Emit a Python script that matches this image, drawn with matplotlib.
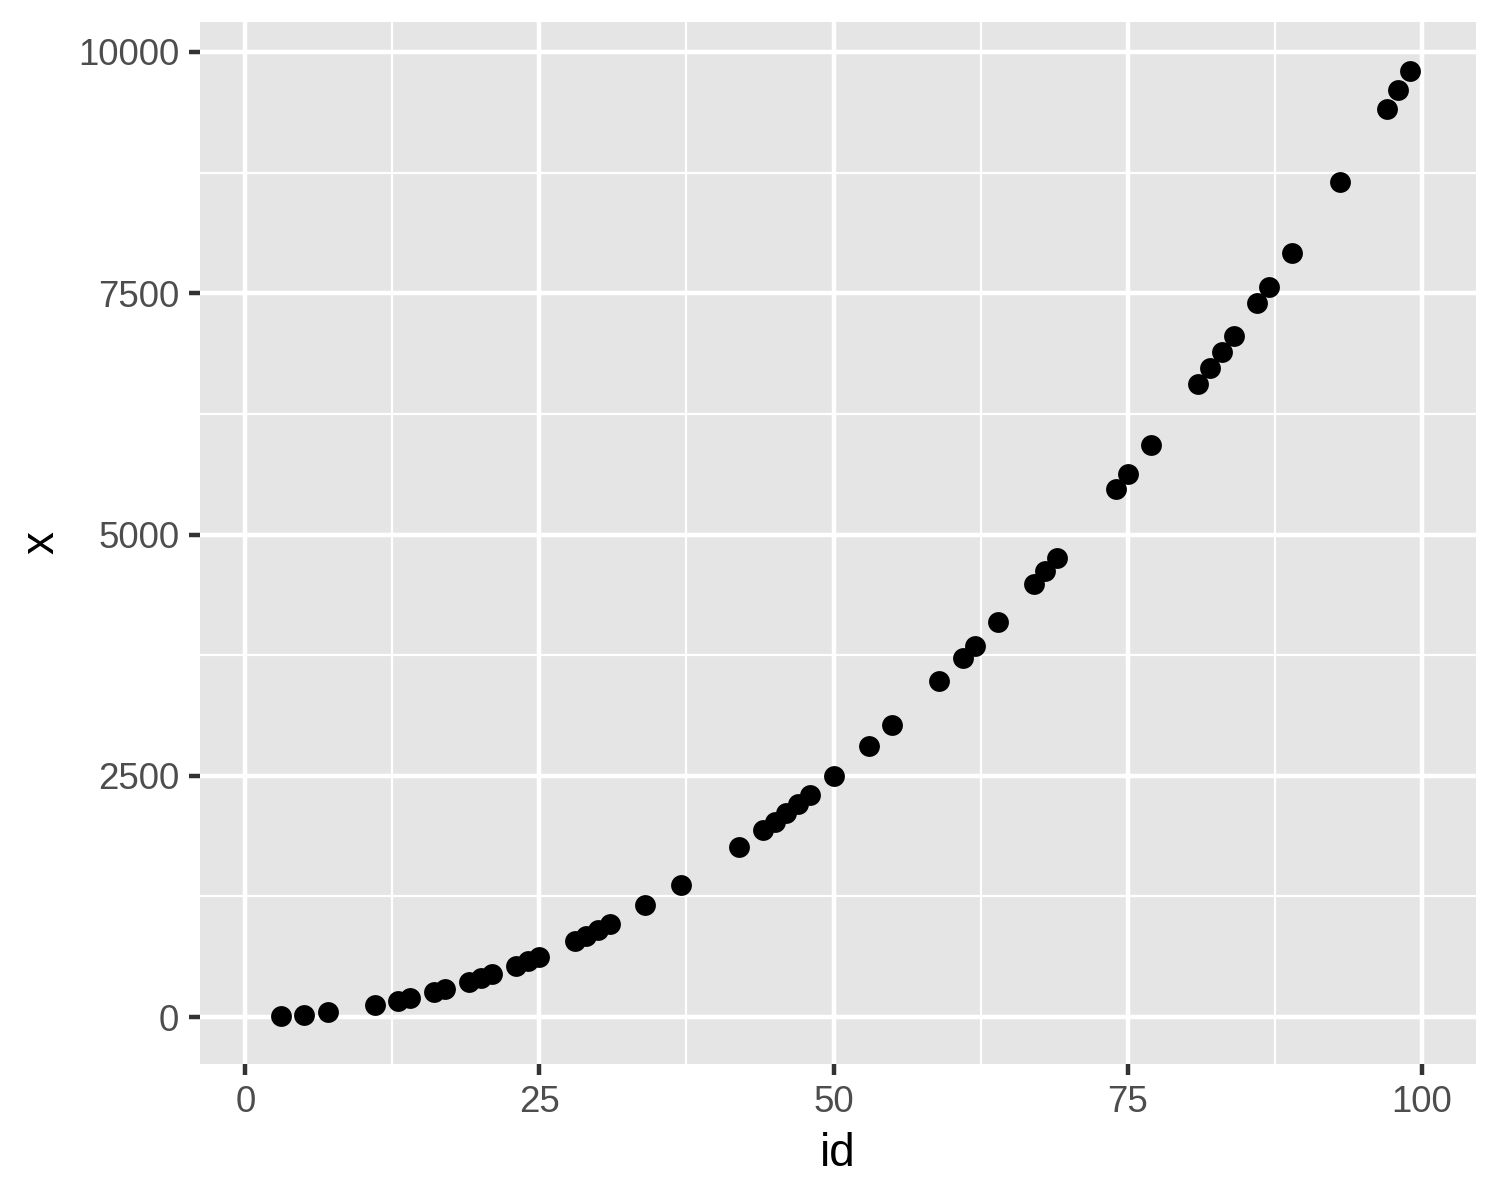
import matplotlib
matplotlib.use("Agg")
import matplotlib.pyplot as plt
from matplotlib.ticker import FixedLocator

# data
ids = [3, 5, 7, 11, 13, 14, 16, 17, 19, 20, 21, 23, 24, 25, 28, 29, 30, 31,
       34, 37, 42, 44, 45, 46, 47, 48, 50, 53, 55, 59, 61, 62, 64, 67, 68, 69,
       74, 75, 77, 81, 82, 83, 84, 86, 87, 89, 93, 97, 98, 99]
xs = [9, 25, 49, 121, 169, 196, 256, 289, 361, 400, 441, 529, 576, 625, 784,
      841, 900, 961, 1156, 1369, 1764, 1936, 2025, 2116, 2209, 2304, 2500,
      2809, 3025, 3481, 3721, 3844, 4096, 4489, 4624, 4761, 5476, 5625, 5929,
      6561, 6724, 6889, 7056, 7396, 7569, 7921, 8649, 9409, 9604, 9801]

x_ticks = [0, 25, 50, 75, 100]
x_minor = [12.5, 37.5, 62.5, 87.5]
y_ticks = [0, 2500, 5000, 7500, 10000]
y_minor = [1250, 3750, 6250, 8750]

plt.rcParams['font.family'] = ['Liberation Sans', 'DejaVu Sans']

fig = plt.figure(figsize=(5, 4), dpi=300)
ax = fig.add_axes([0.1333, 0.1133, 0.8507, 0.8684])
ax.set_facecolor("#E5E5E5")
for s in ax.spines.values():
    s.set_visible(False)

ax.xaxis.set_major_locator(FixedLocator(x_ticks))
ax.xaxis.set_minor_locator(FixedLocator(x_minor))
ax.yaxis.set_major_locator(FixedLocator(y_ticks))
ax.yaxis.set_minor_locator(FixedLocator(y_minor))
ax.grid(which="major", color="white", linewidth=1.07)
ax.grid(which="minor", color="white", linewidth=0.53)
ax.set_axisbelow(True)

ax.tick_params(which="major", length=2.75, width=1.07, color="#333333",
               labelsize=8.8, labelcolor="#4D4D4D", pad=2.2)
ax.tick_params(which="minor", length=0)

ax.scatter(ids, xs, s=25, color="black", linewidths=0, zorder=3)

ax.set_xlim(-3.85, 104.6)
ax.set_ylim(-487, 10311)

ax.set_xlabel("id", fontsize=11, color="black", labelpad=3)
ax.set_ylabel("x", fontsize=11, color="black", labelpad=3.5)

fig.savefig("out.png", dpi=300)
